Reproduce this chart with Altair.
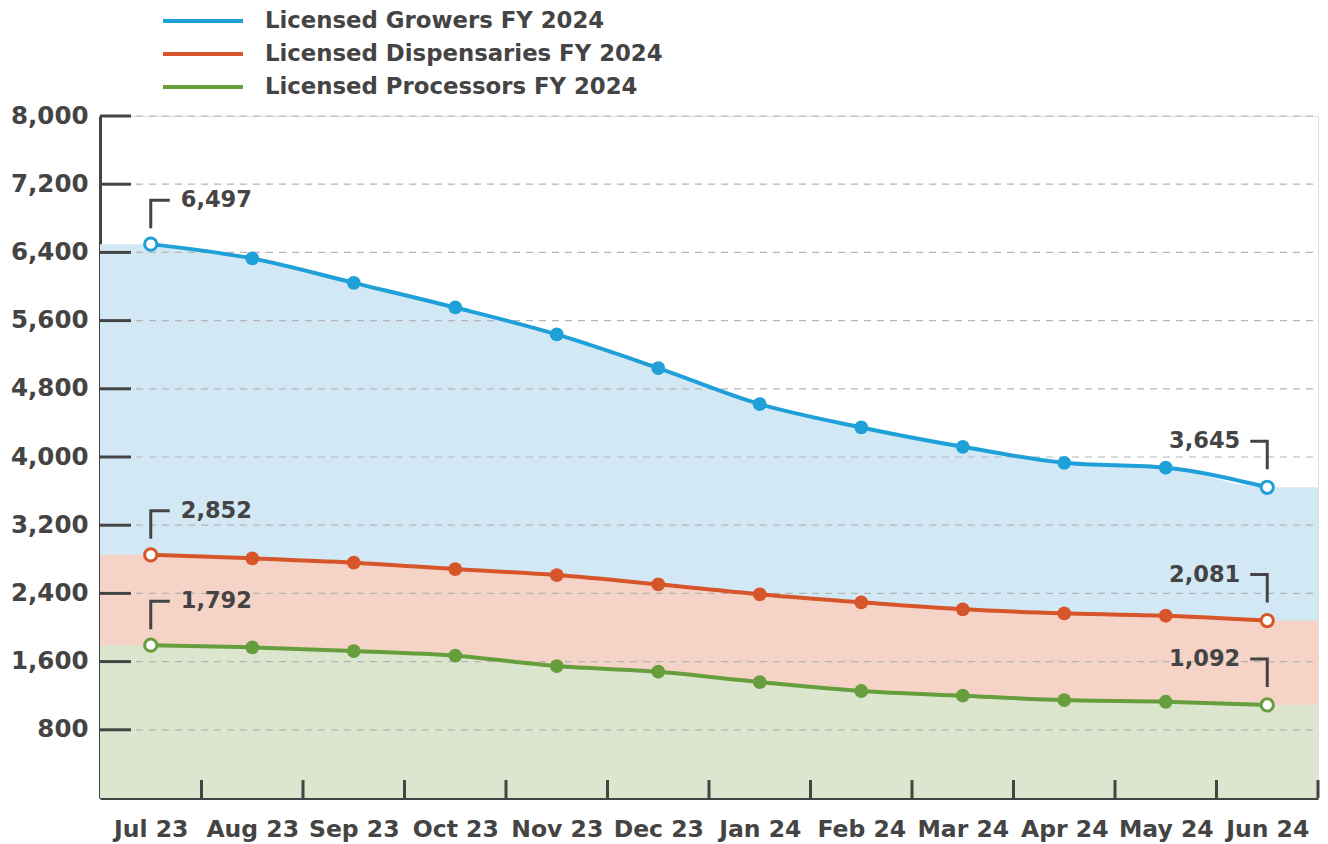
import altair as alt
import pandas as pd

months = ["Jul 23", "Aug 23", "Sep 23", "Oct 23", "Nov 23", "Dec 23",
          "Jan 24", "Feb 24", "Mar 24", "Apr 24", "May 24", "Jun 24"]
series_names = ["Licensed Growers FY 2024", "Licensed Dispensaries FY 2024",
                "Licensed Processors FY 2024"]
growers = [6497, 6329, 6043, 5754, 5438, 5043, 4620, 4347, 4120, 3932, 3874, 3645]
dispensaries = [2852, 2811, 2760, 2685, 2615, 2506, 2389, 2295, 2213, 2166, 2138, 2081]
processors = [1792, 1767, 1724, 1669, 1548, 1481, 1360, 1255, 1200, 1149, 1129, 1092]
y_ticks = [800, 1600, 2400, 3200, 4000, 4800, 5600, 6400, 7200, 8000]

line_colors = ["#1fa0d8", "#d6552a", "#669e3e"]
area_colors = ["#d3e8f5", "#f5d3c7", "#dce6cf"]
text_color = "#444444"
FONT = "DejaVu Sans"

W, H = 1218, 682
N = len(months)

rows = []
for name, vals in zip(series_names, [growers, dispensaries, processors]):
    for i, v in enumerate(vals):
        rows.append({"idx": i, "month": months[i], "series": name, "value": v,
                     "end": "first" if i == 0 else ("last" if i == N - 1 else "mid")})
df = pd.DataFrame(rows)

# area data: extend the first/last values to the plot edges
area_rows = []
for name, vals in zip(series_names, [growers, dispensaries, processors]):
    area_rows.append({"idx": -0.5, "series": name, "value": vals[0]})
    for i, v in enumerate(vals):
        area_rows.append({"idx": i, "series": name, "value": v})
    area_rows.append({"idx": N - 0.5, "series": name, "value": vals[-1]})
area_df = pd.DataFrame(area_rows)

ytick_df = pd.DataFrame({"value": y_ticks})
xtick_df = pd.DataFrame({"idx": [i + 0.5 for i in range(N)]})

label_expr = "[" + ",".join("'%s'" % m for m in months) + "][datum.value]"

x_scale = alt.Scale(domain=[-0.5, N - 0.5], nice=False, zero=False)
y_scale = alt.Scale(domain=[0, 8000], nice=False)

x_axis = alt.Axis(
    values=list(range(N)), labelExpr=label_expr, ticks=False, grid=False,
    domain=True, domainColor=text_color, domainWidth=3, labelFont=FONT,
    labelFontSize=23.5, labelFontWeight="bold", labelColor=text_color,
    labelPadding=19, title=None, labelFlush=False)
y_axis = alt.Axis(
    values=y_ticks, labelExpr="format(datum.value, ',')", ticks=False,
    grid=False, domain=True, domainColor=text_color, domainWidth=3,
    labelFont=FONT, labelFontSize=24.5, labelFontWeight="bold",
    labelColor=text_color, labelPadding=12, title=None)

X = alt.X("idx:Q", scale=x_scale, axis=x_axis)
Y = alt.Y("value:Q", scale=y_scale, axis=y_axis)

layers = []
# areas, drawn growers -> dispensaries -> processors
for name, col in zip(series_names, area_colors):
    layers.append(
        alt.Chart(area_df).transform_filter(alt.datum.series == name)
        .mark_area(interpolate="monotone", color=col, opacity=1)
        .encode(x=X, y=Y)
    )

# dashed grid lines
grid = alt.Chart(ytick_df).mark_rule(color="#b5b5b5", strokeWidth=1.2,
                                      strokeDash=[7, 6]).encode(
    y=Y, x=alt.value(36), x2=alt.value(W))
# inward y ticks
yticks = alt.Chart(ytick_df).mark_rule(color=text_color, strokeWidth=3).encode(
    y=Y, x=alt.value(0), x2=alt.value(31))
# inward x ticks at band boundaries
xticks = alt.Chart(xtick_df).mark_rule(color=text_color, strokeWidth=3).encode(
    x=X, y=alt.value(H), y2=alt.value(H - 18))

color_enc = alt.Color("series:N", sort=series_names,
                      scale=alt.Scale(domain=series_names, range=line_colors),
                      legend=alt.Legend(
                          title=None, orient="none", legendX=91, legendY=-107,
                          symbolType="M-4,0H4", symbolSize=400,
                          symbolStrokeWidth=4, labelFont=FONT, labelFontSize=22.8,
                          labelFontWeight="bold", labelColor=text_color,
                          labelOffset=50, rowPadding=9, symbolOffset=0,
                          labelLimit=0))

base = alt.Chart(df)
lines = base.mark_line(interpolate="monotone", strokeWidth=4).encode(
    x=X, y=Y, color=color_enc, detail="series:N")
points = base.transform_filter(alt.datum.end == "mid").mark_circle(
    size=190, opacity=1).encode(x=X, y=Y, color=color_enc)
endpts = base.transform_filter(alt.datum.end != "mid").mark_point(
    size=150, filled=True, fill="white", strokeWidth=3, opacity=1).encode(
    x=X, y=Y,
    stroke=alt.Stroke("series:N", scale=alt.Scale(domain=series_names,
                                                  range=line_colors), legend=None))

first = base.transform_filter(alt.datum.end == "first")
last = base.transform_filter(alt.datum.end == "last")
br_left = first.mark_point(shape="M0,-4L0,-11L4.75,-11", size=64, filled=False,
                           stroke=text_color, strokeWidth=3, opacity=1,
                           strokeJoin="miter", strokeCap="butt").encode(x=X, y=Y)
br_right = last.mark_point(shape="M0,-4.5L0,-11.5L-4.25,-11.5", size=64,
                           filled=False, stroke=text_color, strokeWidth=3,
                           opacity=1, strokeJoin="miter", strokeCap="butt").encode(
    x=X, y=Y)
lab_left = first.mark_text(align="left", baseline="middle", dx=30, dy=-44,
                           font=FONT, fontSize=22.5, fontWeight="bold",
                           color=text_color).encode(
    x=X, y=Y, text=alt.Text("value:Q", format=","))
lab_right = last.mark_text(align="right", baseline="middle", dx=-27, dy=-46,
                           font=FONT, fontSize=22.5, fontWeight="bold",
                           color=text_color).encode(
    x=X, y=Y, text=alt.Text("value:Q", format=","))

chart = alt.layer(
    *layers, grid, yticks, xticks, lines, points, endpts,
    br_left, br_right, lab_left, lab_right
).properties(
    width=W, height=H,
    autosize=alt.AutoSizeParams(type="none"),
    padding={"left": 92, "top": 108, "right": 2, "bottom": 46},
).configure_view(stroke=None).configure(background="white")

chart.save("out.html", embed_options={"renderer": "svg", "actions": False})
